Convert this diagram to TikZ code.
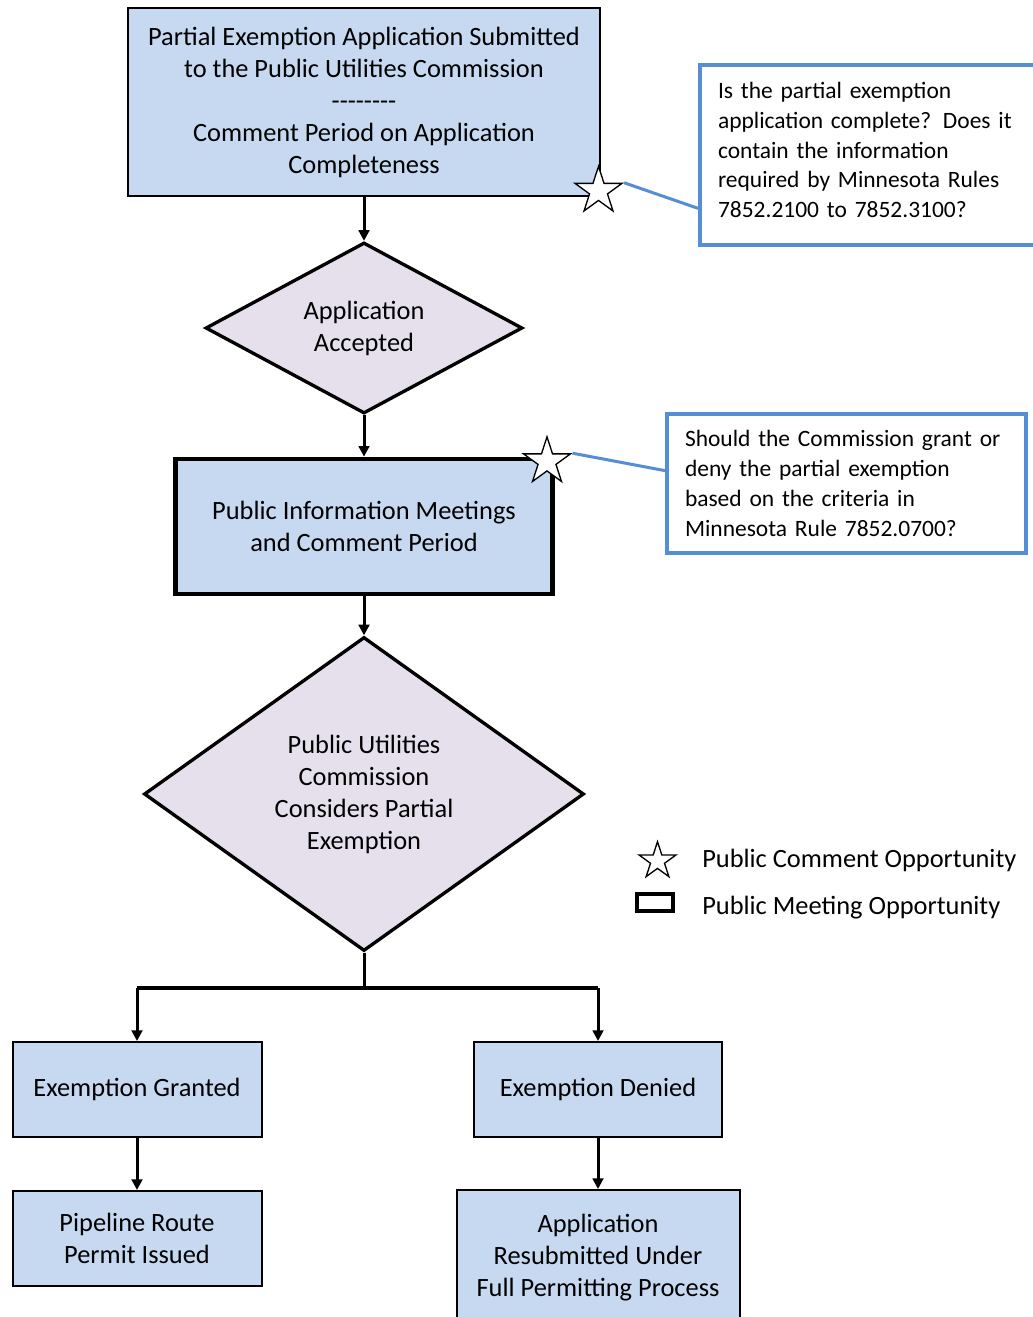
\documentclass[tikz,border=0pt]{standalone}
\usepackage{fontspec}
\setmainfont{Carlito}
\usepackage{tikz}
\usetikzlibrary{arrows.meta,shapes.geometric,calc}
\definecolor{boxblue}{RGB}{198,217,240}
\definecolor{lilac}{RGB}{229,224,236}
\definecolor{noteblue}{RGB}{85,142,213}
\newcommand{\dashrow}{-\kern0pt-\kern0pt-\kern0pt-\kern0pt-\kern0pt-\kern0pt-\kern0pt-}
\begin{document}
\begin{tikzpicture}[x=0.75pt,y=-0.75pt,
     >={Triangle[length=8pt,width=8pt]},
     every node/.style={font=\fontsize{19.8pt}{24pt}\selectfont, align=center},
     box/.style={draw, fill=boxblue, line width=1.5pt, inner sep=0pt},
     meetbox/.style={box, line width=3.5pt},
     choice/.style={diamond, draw, fill=lilac, line width=2.5pt, inner sep=0pt},
     note/.style={draw=noteblue, fill=white, line width=3pt, align=left,
          font=\fontsize{17.6pt}{22.3pt}\selectfont},
     commentstar/.style={star, star points=5, star point ratio=2.618, draw, fill=white,
          line width=1pt, inner sep=0pt},
     flow/.style={->, line width=2.25pt},
     link/.style={draw=noteblue, line width=2.25pt}]

     \useasboundingbox (0,0) rectangle (1032,1317);

     \node (plan) at (364,102) [box, minimum width=354pt, minimum height=141pt] {Partial Exemption Application Submitted\\to the Public Utilities Commission\\\dashrow\\Comment Period on Application\\Completeness};
     \node (accept) at (364,328) [choice, shape aspect=1.85, minimum width=237.75pt, minimum height=128.25pt] {Application\\Accepted};
     \node (meet) at (364,526.5) [meetbox, minimum width=282.75pt, minimum height=101.25pt] {Public Information Meetings\\and Comment Period};
     \node (decide) at (364,794) [choice, shape aspect=1.4, minimum width=330pt, minimum height=235.5pt] {Public Utilities\\Commission\\Considers Partial\\Exemption};

     \node (granted) at (137,1089.5) [box, minimum width=186.75pt, minimum height=71.25pt] {Exemption Granted};
     \node (denied) at (598,1089.5) [box, minimum width=186pt, minimum height=71.25pt] {Exemption Denied};
     \node (permit) at (137,1238.5) [box, minimum width=186.75pt, minimum height=71.25pt] {Pipeline Route\\Permit Issued};
     \node (resubmit) at (598,1258) [box, minimum width=212.25pt, minimum height=102pt] {Application\\Resubmitted Under\\Full Permitting Process};

     \draw[flow] (plan.south) -- (accept.north);
     \draw[flow] (accept.south) -- (meet.north);
     \draw[flow] (meet.south) -- (decide.north);
     \coordinate (split) at (364,988);
     \draw[line width=2.25pt] (decide.south) -- (split);
     \draw[line width=3pt] (granted.north |- split) -- (denied.north |- split);
     \draw[flow] (granted.north |- split) -- (granted.north);
     \draw[flow] (denied.north |- split) -- (denied.north);
     \draw[flow] (granted.south) -- (permit.north);
     \draw[flow] (denied.south) -- (resubmit.north);

     \node (note1) at (874.7,155) [note, minimum width=262pt, minimum height=135pt, text width=235pt, execute at end node={\vspace{7.5pt}}] {Is the partial exemption\\application complete?  Does it\\contain the information\\required by Minnesota Rules\\7852.2100 to 7852.3100?};
     \node (note2) at (846.5,483.5) [note, minimum width=269.25pt, minimum height=104.25pt, text width=242.25pt] {Should the Commission grant or\\deny the partial exemption\\based on the criteria in\\Minnesota Rule 7852.0700?};

     \node (star1) at (598.5,191) [commentstar, minimum size=37pt] {};
     \node (star2) at (547,461.5) [commentstar, minimum size=37pt] {};
     \draw[link] (star1.18) -- ($(note1.south west)!0.21!(note1.north west)$);
     \draw[link] (star2.18) -- ($(note2.north west)!0.41!(note2.south west)$);

     \node (keystar) at (657.5,861) [commentstar, minimum size=29pt] {};
     \node (keybox) at (655,902.5) [draw, line width=3pt, minimum width=27pt, minimum height=12.75pt, inner sep=0pt] {};
     \node (keycomment) at (702,860) [anchor=west, inner sep=0pt] {Public Comment Opportunity};
     \node (keymeeting) at (702,908) [anchor=west, inner sep=0pt] {Public Meeting Opportunity};
\end{tikzpicture}
\end{document}
